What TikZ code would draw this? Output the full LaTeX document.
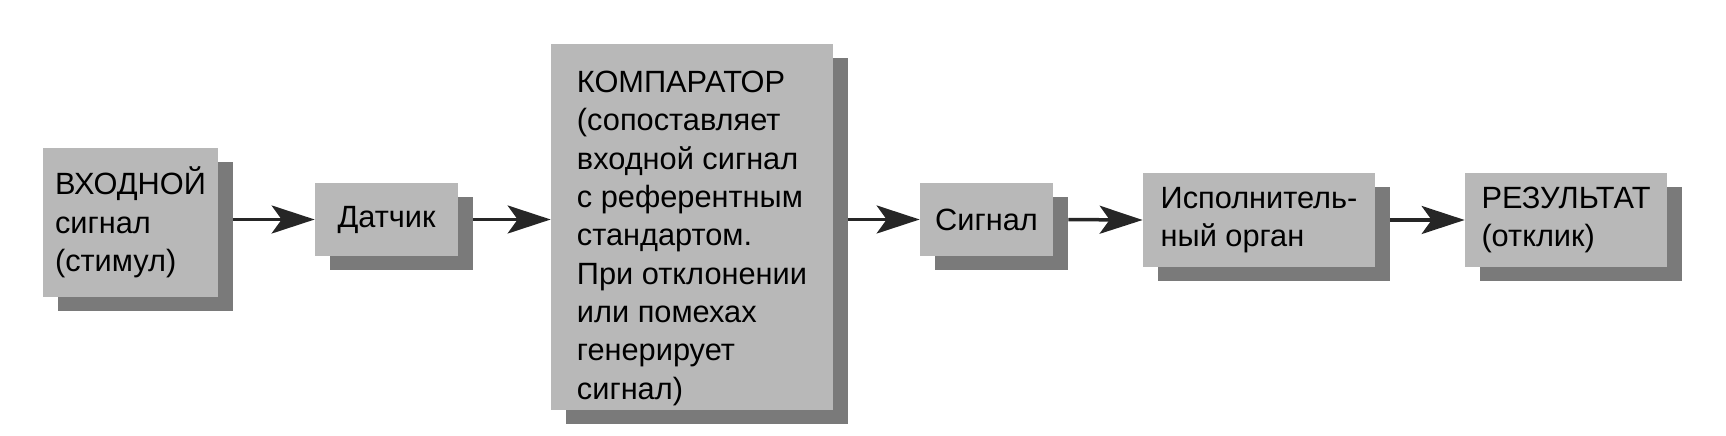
\documentclass[tikz,border=0pt]{standalone}
\usepackage{fontspec}
\setmainfont{Liberation Sans}
\usetikzlibrary{arrows.meta,shadows}

\begin{document}
\begin{tikzpicture}[
  box/.style={fill=black!28, align=left, inner sep=0pt,
              font=\fontsize{17.5}{21.8}\selectfont,
              drop shadow={shadow xshift=0.3cm, shadow yshift=-0.28cm, fill=black!52, opacity=1}},
  arrow/.style={-{Stealth[length=0.86cm, width=0.56cm, inset=0.2cm]}, line width=0.07cm,
                draw=black!85, shorten <=0.3cm}
]
  \useasboundingbox (0,0) rectangle (34.52,8.72);

  % Nodes
  \node[box, minimum width=3.5cm, minimum height=2.98cm] (input) at (2.61,4.27) {ВХОДНОЙ\\сигнал\\(стимул)};
  \node[box, minimum width=2.86cm, minimum height=1.46cm] (sensor) at (7.73,4.33) {Датчик};
  \node[box, minimum width=5.64cm, minimum height=7.32cm] (comp) at (13.84,4.18)
    {\rule{0pt}{0.88cm}КОМПАРАТОР\\(сопоставляет\\входной сигнал\\с референтным\\стандартом.\\При отклонении\\или помехах\\генерирует\\сигнал)};
  \node[box, minimum width=2.66cm, minimum height=1.46cm] (signal) at (19.73,4.33) {Сигнал};
  \node[box, minimum width=4.64cm, minimum height=1.88cm] (effector) at (25.18,4.32) {Исполнитель-\\ный орган};
  \node[box, minimum width=4.04cm, minimum height=1.88cm] (result) at (31.32,4.32) {РЕЗУЛЬТАТ\\(отклик)};

  % Arrows
  \draw[arrow] (input.east |- sensor.west) -- (sensor.west);
  \draw[arrow] (sensor.east) -- (sensor.east -| comp.west);
  \draw[arrow] (comp.east |- signal.west) -- (signal.west);
  \draw[arrow] (signal.east) -- (effector.west);
  \draw[arrow] (effector.east) -- (result.west);
\end{tikzpicture}
\end{document}
